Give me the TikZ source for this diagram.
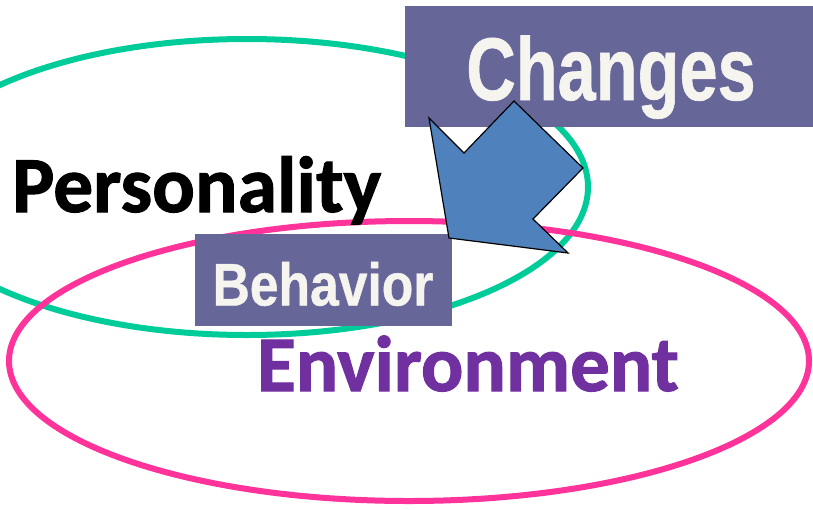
\documentclass[tikz,border=0pt]{standalone}
\usepackage{fontspec}
\setmainfont{Carlito}[BoldFeatures={FakeBold=1.3}]
\newfontfamily\arialfont{Liberation Sans}[BoldFeatures={FakeBold=0.8}]
\definecolor{boxcol}{RGB}{102,102,153}
\definecolor{txtlight}{RGB}{246,244,238}
\definecolor{greenring}{RGB}{0,204,153}
\definecolor{pinkring}{RGB}{255,51,153}
\definecolor{arrowblue}{RGB}{79,129,189}
\definecolor{envpurple}{RGB}{112,48,160}
\tikzset{
  ring/.style={line width=6pt},
  labelbox/.style={fill=boxcol, draw=none, inner sep=0pt},
  bigword/.style={inner sep=0pt, anchor=base west},
}
\begin{document}
\begin{tikzpicture}[x=1pt,y=-1pt]
\useasboundingbox (0,0) rectangle (813,509);
% rings
\draw[ring, greenring] (247,187) ellipse [x radius=341, y radius=148];
\draw[ring, pinkring] (409,361) ellipse [x radius=400, y radius=140];
% boxes
\node[labelbox, minimum width=408pt, minimum height=121pt, anchor=north west] (changes) at (405,6) {};
\node[text=txtlight, inner sep=0pt, anchor=base] (changestxt) at (611,100) {\scalebox{0.77}[1]{\arialfont\bfseries\fontsize{89}{100}\selectfont Changes}};
\node[labelbox, minimum width=257pt, minimum height=92pt, anchor=north west] (behavior) at (195,234) {};
\node[text=txtlight, inner sep=0pt] (behaviortxt) at (323,284) {\scalebox{0.86}[1]{\arialfont\bfseries\fontsize{60}{70}\selectfont Behavior}};
% arrow
\draw[fill=arrowblue, draw=black, line width=1.2pt, line join=miter]
  (449,238) -- (429,118) -- (464,153) -- (514,101) -- (583,168) -- (533,219) -- (568,253) -- cycle;
% words
\node[bigword, font=\bfseries\fontsize{79.5}{80}\selectfont] (personality) at (12,212) {Personality};
\node[bigword, text=envpurple, font=\bfseries\fontsize{79}{80}\selectfont] (environment) at (257,391) {Environment};
\end{tikzpicture}
\end{document}
